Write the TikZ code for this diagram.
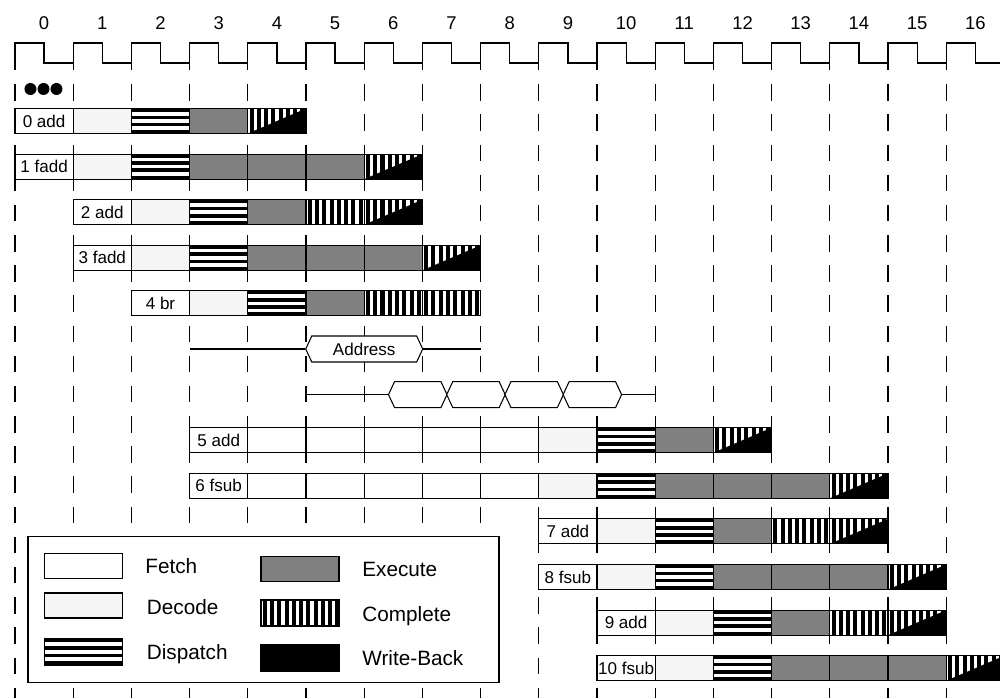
\documentclass[tikz,border=0pt]{standalone}
\usepackage{fontspec}
\setmainfont{Liberation Sans}
\usetikzlibrary{shapes,arrows,positioning,calc}

\tikzset{
  cell/.style={draw, line width=0.6pt, minimum width=1.164cm, minimum height=0.5cm,
        inner sep=0pt, outer sep=0pt},
  lbl/.style={cell, fill=white, font=\fontsize{9.7}{11}\selectfont},
  fetchcell/.style={cell, fill=white},
  decodecell/.style={cell, fill=black!4},
  execcell/.style={cell, fill=black!50},
  dispcell/.style={cell, fill=white, path picture={
        \foreach \f in {0,0.287,0.573,0.86}
          \fill[black] ($(path picture bounding box.north west)!\f!(path picture bounding box.south west)$)
            rectangle ($(path picture bounding box.north east)!{\f+0.14}!(path picture bounding box.south east)$);}},
  compcell/.style={cell, fill=white, path picture={
        \foreach \i in {0,...,11}
          \fill[black] ([xshift=\i*0.1454cm+0.035cm]path picture bounding box.south west) rectangle ++(0.08cm,0.6cm);}},
  cwcell/.style={cell, fill=white, path picture={
        \foreach \i in {0,...,11}
          \fill[black] ([xshift=\i*0.1454cm+0.035cm]path picture bounding box.south west) rectangle ++(0.08cm,0.6cm);
        \fill[black] (path picture bounding box.south west) -- (path picture bounding box.north east)
          -- (path picture bounding box.south east) -- cycle;}},
  wbcell/.style={cell, fill=black},
  keybox/.style={minimum width=1.56cm},
  keytext/.style={anchor=west, inner sep=0pt, text height=8.45pt, text depth=0pt,
        font=\fontsize{11.8}{14}\selectfont},
  cyc/.style={inner sep=0pt, text height=7.5pt, text depth=0pt, font=\fontsize{10.5}{12}\selectfont},
  hexnode/.style={draw, fill=white, line width=0.6pt, shape=signal, signal to=east and west,
        signal pointer angle=130, minimum height=0.52cm, inner sep=0pt,
        font=\fontsize{9.7}{11}\selectfont},
  wire/.style={line width=0.6pt},
  clk/.style={line width=0.7pt},
  gridline/.style={line width=0.65pt, dash pattern=on 9.35pt off 7.82pt, dash phase=5.1pt}
}

\begin{document}
\begin{tikzpicture}[x=1.164cm, y=-0.912cm]
  \useasboundingbox (-0.2577,-2.6535) rectangle (16.924,12.6535);

  % clock and cycle numbers
  \draw[clk] (0,-1.272) \foreach \k in {0,...,16} {
        -- (\k,-1.711) -- (\k+0.5,-1.711) -- (\k+0.5,-1.272) -- (\k+1,-1.272)};
  \foreach \k in {0,...,16}
    \node[cyc] (n\k) at (\k+0.5,-2.149) {\k};
  \foreach \k in {0,...,16}
    \draw[gridline] (\k,-1.272) -- (\k,12.6535);

  \fill (0.266,-0.702) circle (0.12cm);
  \fill (0.490,-0.702) circle (0.12cm);
  \fill (0.713,-0.702) circle (0.12cm);

  % Row 0
  \node[lbl] (i0) at (0.5,0) {0 add};
  \node[decodecell] (i0d) at (1.5,0) {};
  \node[dispcell] (i0p) at (2.5,0) {};
  \node[execcell] (i0e) at (3.5,0) {};
  \node[cwcell] (i0w) at (4.5,0) {};
  % Row 1
  \node[lbl] (i1) at (0.5,1) {1 fadd};
  \node[decodecell] (i1d) at (1.5,1) {};
  \node[dispcell] (i1p) at (2.5,1) {};
  \node[execcell] (i1e1) at (3.5,1) {};
  \node[execcell] (i1e2) at (4.5,1) {};
  \node[execcell] (i1e3) at (5.5,1) {};
  \node[cwcell] (i1w) at (6.5,1) {};
  % Row 2
  \node[lbl] (i2) at (1.5,2) {2 add};
  \node[decodecell] (i2d) at (2.5,2) {};
  \node[dispcell] (i2p) at (3.5,2) {};
  \node[execcell] (i2e) at (4.5,2) {};
  \node[compcell] (i2c) at (5.5,2) {};
  \node[cwcell] (i2w) at (6.5,2) {};
  % Row 3
  \node[lbl] (i3) at (1.5,3) {3 fadd};
  \node[decodecell] (i3d) at (2.5,3) {};
  \node[dispcell] (i3p) at (3.5,3) {};
  \node[execcell] (i3e1) at (4.5,3) {};
  \node[execcell] (i3e2) at (5.5,3) {};
  \node[execcell] (i3e3) at (6.5,3) {};
  \node[cwcell] (i3w) at (7.5,3) {};
  % Row 4
  \node[lbl] (i4) at (2.5,4) {4 br};
  \node[decodecell] (i4d) at (3.5,4) {};
  \node[dispcell] (i4p) at (4.5,4) {};
  \node[execcell] (i4e) at (5.5,4) {};
  \node[compcell] (i4c1) at (6.5,4) {};
  \node[compcell] (i4c2) at (7.5,4) {};

  % Branch address
  \coordinate (a0) at (3,5);
  \node[hexnode, minimum width=2.34cm] (addr) at (6,5) {Address};
  \coordinate (a1) at (8,5);
  \draw[wire] (a0) -- (addr.west);
  \draw[wire] (addr.east) -- (a1);

  % Fetch stream
  \coordinate (b0) at (5,6);
  \node[hexnode, minimum width=1.17cm] (h1) at (6.92,6) {};
  \node[hexnode, minimum width=1.17cm] (h2) at (7.92,6) {};
  \node[hexnode, minimum width=1.17cm] (h3) at (8.92,6) {};
  \node[hexnode, minimum width=1.17cm] (h4) at (9.92,6) {};
  \coordinate (b1) at (11,6);
  \draw[wire] (b0) -- (h1.west);
  \draw[wire] (h4.east) -- (b1);

  % Row 7
  \node[lbl] (i5) at (3.5,7) {5 add};
  \node[fetchcell] (i5f1) at (4.5,7) {};
  \node[fetchcell] (i5f2) at (5.5,7) {};
  \node[fetchcell] (i5f3) at (6.5,7) {};
  \node[fetchcell] (i5f4) at (7.5,7) {};
  \node[fetchcell] (i5f5) at (8.5,7) {};
  \node[decodecell] (i5d) at (9.5,7) {};
  \node[dispcell] (i5p) at (10.5,7) {};
  \node[execcell] (i5e) at (11.5,7) {};
  \node[cwcell] (i5w) at (12.5,7) {};
  % Row 8
  \node[lbl] (i6) at (3.5,8) {6 fsub};
  \node[fetchcell] (i6f1) at (4.5,8) {};
  \node[fetchcell] (i6f2) at (5.5,8) {};
  \node[fetchcell] (i6f3) at (6.5,8) {};
  \node[fetchcell] (i6f4) at (7.5,8) {};
  \node[fetchcell] (i6f5) at (8.5,8) {};
  \node[decodecell] (i6d) at (9.5,8) {};
  \node[dispcell] (i6p) at (10.5,8) {};
  \node[execcell] (i6e1) at (11.5,8) {};
  \node[execcell] (i6e2) at (12.5,8) {};
  \node[execcell] (i6e3) at (13.5,8) {};
  \node[cwcell] (i6w) at (14.5,8) {};
  % Row 9
  \node[lbl] (i7) at (9.5,9) {7 add};
  \node[decodecell] (i7d) at (10.5,9) {};
  \node[dispcell] (i7p) at (11.5,9) {};
  \node[execcell] (i7e) at (12.5,9) {};
  \node[compcell] (i7c) at (13.5,9) {};
  \node[cwcell] (i7w) at (14.5,9) {};
  % Row 10
  \node[lbl] (i8) at (9.5,10) {8 fsub};
  \node[decodecell] (i8d) at (10.5,10) {};
  \node[dispcell] (i8p) at (11.5,10) {};
  \node[execcell] (i8e1) at (12.5,10) {};
  \node[execcell] (i8e2) at (13.5,10) {};
  \node[execcell] (i8e3) at (14.5,10) {};
  \node[cwcell] (i8w) at (15.5,10) {};
  % Row 11
  \node[lbl] (i9) at (10.5,11) {9 add};
  \node[decodecell] (i9d) at (11.5,11) {};
  \node[dispcell] (i9p) at (12.5,11) {};
  \node[execcell] (i9e) at (13.5,11) {};
  \node[compcell] (i9c) at (14.5,11) {};
  \node[cwcell] (i9w) at (15.5,11) {};
  % Row 12
  \node[lbl] (i10) at (10.5,12) {10 fsub};
  \node[decodecell] (i10d) at (11.5,12) {};
  \node[dispcell] (i10p) at (12.5,12) {};
  \node[execcell] (i10e1) at (13.5,12) {};
  \node[execcell] (i10e2) at (14.5,12) {};
  \node[execcell] (i10e3) at (15.5,12) {};
  \node[cwcell] (i10w) at (16.5,12) {};

  % Legend
  \node[draw, fill=white, line width=0.6pt, minimum width=9.42cm, minimum height=2.92cm]
        (legend) at (4.27,10.702) {};
  \node[fetchcell, keybox] (kf) at (1.177,9.748) {};
  \node[decodecell, keybox] (kd) at (1.177,10.625) {};
  \node[dispcell, keybox, minimum height=0.54cm] (kp) at (1.177,11.634) {};
  \node[execcell, keybox] (ke) at (4.897,9.814) {};
  \node[compcell, keybox, minimum height=0.52cm] (kc) at (4.897,10.789) {};
  \node[wbcell, keybox, minimum height=0.52cm] (kw) at (4.897,11.776) {};
  \node[keytext] (tf) at (2.234,9.77) {Fetch};
  \node[keytext] (td) at (2.26,10.65) {Decode};
  \node[keytext] (tp) at (2.26,11.64) {Dispatch};
  \node[keytext] (te) at (5.962,9.82) {Execute};
  \node[keytext] (tc) at (5.962,10.81) {Complete};
  \node[keytext] (tw) at (5.962,11.78) {Write-Back};
\end{tikzpicture}
\end{document}
